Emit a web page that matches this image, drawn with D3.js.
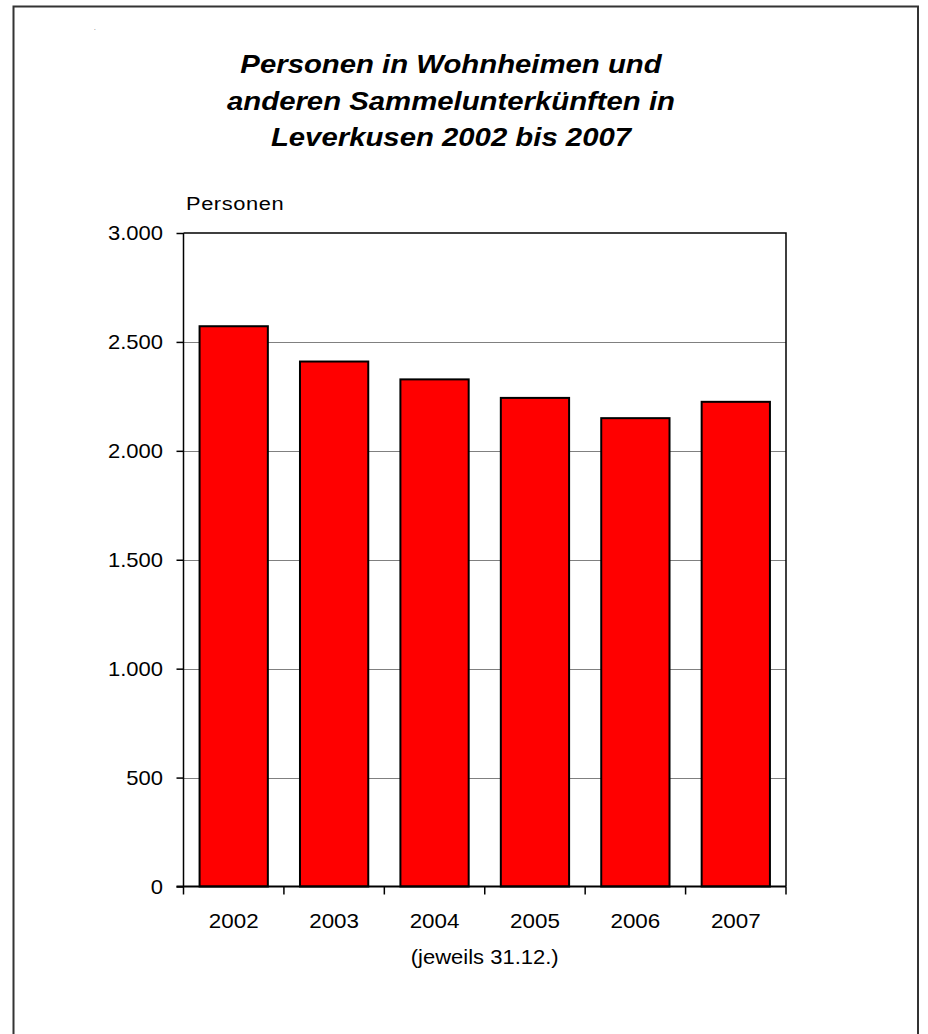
<!DOCTYPE html>
<html>
<head>
<meta charset="utf-8">
<script src="https://cdn.jsdelivr.net/npm/d3@7"></script>
<style>
 body { margin: 0; background: #fff; }
 text { font-family: "Liberation Sans", Arial, sans-serif; fill: #000; }
</style>
</head>
<body>
<script>
 // *** chart data
 var years = ["2002", "2003", "2004", "2005", "2006", "2007"];
 var persons = [2572, 2410, 2328, 2243, 2150, 2225];
 var yTicks = [0, 500, 1000, 1500, 2000, 2500, 3000];
 var titleLines = ["Personen in Wohnheimen und", "anderen Sammelunterkünften in", "Leverkusen 2002 bis 2007"];

 var width = 928
 var height = 1034

 var svg = d3.select('body')
  .append('svg')
  .attr('width', width)
  .attr('height', height);

 // *** the original's text is a bit wide, stretch it horizontally
 function wideText(g, x, y, str, size, sx) {
  return g.append('text')
   .attr('transform', 'translate(' + x + ',' + y + ') scale(' + sx + ',1)')
   .style('font-size', size + 'px')
   .text(str);
 }

 // *** outer frame (bottom edge runs off the page)
 svg.append('path')
  .attr('d', 'M13.5,1040 L13.5,6.5 L918,6.5 L918,1040')
  .attr('fill', 'none')
  .attr('stroke', '#333')
  .attr('stroke-width', 2);

 // stray dot in the top left corner
 svg.append('text')
  .attr('x', 94)
  .attr('y', 30)
  .style('font-size', '6px')
  .text('.');

 // *** title
 titleLines.forEach(function(line, i) {
  wideText(svg, 451, 73 + i * 36.5, line, 25.5, 1.15)
   .attr('text-anchor', 'middle')
   .style('font-weight', 'bold')
   .style('font-style', 'italic');
 });

 var plotLeft = 183.5, plotRight = 786, plotTop = 233, plotBottom = 886.5;

 var xScale = d3.scaleBand()
  .domain(years)
  .range([plotLeft, plotRight])
  .paddingInner(0.32)
  .paddingOuter(0.16);

 var yScale = d3.scaleLinear()
  .domain([0, 3000])
  .range([plotBottom, plotTop]);

 // gridlines
 svg.append('g')
  .selectAll('line')
  .data(yTicks.filter(function(d) { return d > 0 && d < 3000 }))
  .enter()
  .append('line')
  .attr('x1', plotLeft)
  .attr('x2', plotRight)
  .attr('y1', function(d) { return Math.round(yScale(d)) + 0.5 })
  .attr('y2', function(d) { return Math.round(yScale(d)) + 0.5 })
  .attr('stroke', '#808080')
  .attr('stroke-width', 1);

 // plot frame top + right
 svg.append('path')
  .attr('d', 'M' + plotLeft + ',' + plotTop + ' L' + plotRight + ',' + plotTop + ' L' + plotRight + ',' + plotBottom)
  .attr('fill', 'none')
  .attr('stroke', '#000')
  .attr('stroke-width', 1.5);

 // bars
 svg.append('g')
  .selectAll('rect')
  .data(persons)
  .enter()
  .append('rect')
  .attr('x', function(d, i) { return xScale(years[i]) })
  .attr('y', function(d) { return yScale(d) })
  .attr('width', xScale.bandwidth())
  .attr('height', function(d) { return plotBottom - yScale(d) })
  .attr('fill', '#ff0000')
  .attr('stroke', '#000')
  .attr('stroke-width', 2);

 // y axis: ticks from d3, labels drawn stretched
 var yAxis = d3.axisLeft(yScale)
  .tickValues(yTicks)
  .tickSize(7)
  .tickFormat('');

 var gy = svg.append('g')
  .attr('transform', 'translate(' + plotLeft + ',0)')
  .call(yAxis);
 gy.select('.domain').attr('stroke-width', 1.5).attr('d', 'M0,' + plotTop + 'V' + plotBottom);
 gy.selectAll('.tick line').attr('stroke-width', 1.5);

 yTicks.forEach(function(t) {
  wideText(svg, 163, yScale(t) + 7, d3.format(",")(t).replace(/,/g, '.'), 20, 1.1)
   .attr('text-anchor', 'end');
 });

 // x axis, ticks sit between categories
 var bounds = d3.range(years.length + 1).map(function(i) { return plotLeft + i * xScale.step() });
 svg.append('line')
  .attr('x1', plotLeft - 7)
  .attr('x2', plotRight)
  .attr('y1', plotBottom)
  .attr('y2', plotBottom)
  .attr('stroke', '#000')
  .attr('stroke-width', 2);
 svg.append('g')
  .selectAll('line')
  .data(bounds)
  .enter()
  .append('line')
  .attr('x1', function(d) { return d })
  .attr('x2', function(d) { return d })
  .attr('y1', plotBottom)
  .attr('y2', plotBottom + 8)
  .attr('stroke', '#000')
  .attr('stroke-width', 1.5);

 years.forEach(function(y) {
  wideText(svg, xScale(y) + xScale.bandwidth() / 2, 928, y, 20, 1.12)
   .attr('text-anchor', 'middle');
 });

 // axis labels
 wideText(svg, (plotLeft + plotRight) / 2, 964, '(jeweils 31.12.)', 20, 1.1)
  .attr('text-anchor', 'middle');

 wideText(svg, 186, 210, 'Personen', 19, 1.15)
  .style('letter-spacing', '0.5px');
</script>
</body>
</html>
